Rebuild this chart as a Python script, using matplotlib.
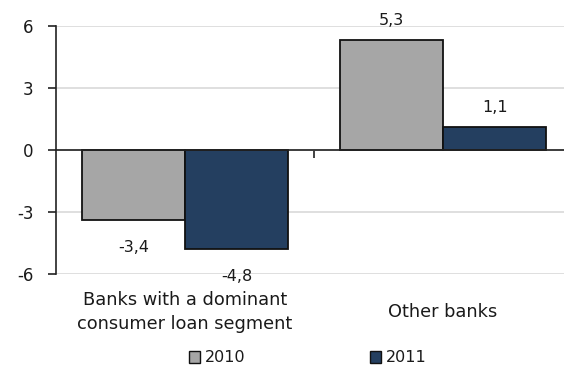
import matplotlib
matplotlib.use("Agg")
import matplotlib.pyplot as plt
import numpy as np
from matplotlib.patches import Patch

categories = ["Banks with a dominant\nconsumer loan segment", "Other banks"]
series_names = ["2010", "2011"]
values_2010 = [-3.4, 5.3]
values_2011 = [-4.8, 1.1]
yticks = [-6, -3, 0, 3, 6]

c2010 = "#A6A6A6"
c2011 = "#243F60"
txt = "#1a1a1a"

plt.rcParams['font.family'] = ['DejaVu Sans']
fig = plt.figure(figsize=(5.64, 3.79), dpi=100)
W, H = 564, 379
ax = fig.add_axes([56 / W, 105 / H, 516 / W, 248 / H])

x = np.arange(len(categories))
bw = 0.4
ax.bar(x - bw / 2, values_2010, bw, color=c2010, edgecolor="#111111", linewidth=1.3, zorder=3)
ax.bar(x + bw / 2, values_2011, bw, color=c2011, edgecolor="#111111", linewidth=1.3, zorder=3)

def fmt(v):
    return f"{v:.1f}".replace(".", ",")

for xs, vals in ((x - bw / 2, values_2010), (x + bw / 2, values_2011)):
    for xi, v in zip(xs, vals):
        off = 14.4 if v >= 0 else -19.4
        ax.annotate(fmt(v), (xi, v), xytext=(0, off), textcoords="offset points",
                    ha="center", va="center", fontsize=11.5, color=txt)

ax.set_xlim(-0.5, 1.5)
ax.set_ylim(-6, 6)
ax.set_yticks(yticks)
ax.set_yticklabels([str(t) for t in yticks], fontsize=12, color=txt)
ax.yaxis.grid(True, color="#D9D9D9", linewidth=1.2, zorder=0)
ax.set_axisbelow(True)

for s in ("top", "right"):
    ax.spines[s].set_visible(False)
ax.spines["left"].set_color("#222222")
ax.spines["left"].set_linewidth(1.2)
ax.spines["bottom"].set_position(("data", 0))
ax.spines["bottom"].set_color("#222222")
ax.spines["bottom"].set_linewidth(1.2)
ax.spines["bottom"].set_zorder(4)
ax.set_xticks([0.5])
ax.set_xticklabels([""])
ax.tick_params(axis="x", direction="out", length=6, width=1.2, color="#222222")
ax.tick_params(axis="y", direction="out", length=6, width=1.2, color="#222222", pad=10)

trans = matplotlib.transforms.blended_transform_factory(ax.transData, ax.transAxes)
for xi, c in zip(x, categories):
    ax.text(xi, (67 - 105) / 248, c, transform=trans, ha="center", va="center",
            fontsize=12.8, color=txt, linespacing=1.4)

handles = [Patch(facecolor=c2010, edgecolor="#111111", linewidth=1.0),
           Patch(facecolor=c2011, edgecolor="#111111", linewidth=1.0)]
fig.legend(handles, series_names, loc="center", bbox_to_anchor=(308 / W, 1 - 358 / H),
           ncol=2, frameon=False, fontsize=11.5, handlelength=0.7, handleheight=0.7,
           handletextpad=0.3, columnspacing=7.8, labelcolor=txt)

fig.savefig("out.png", dpi=100)
